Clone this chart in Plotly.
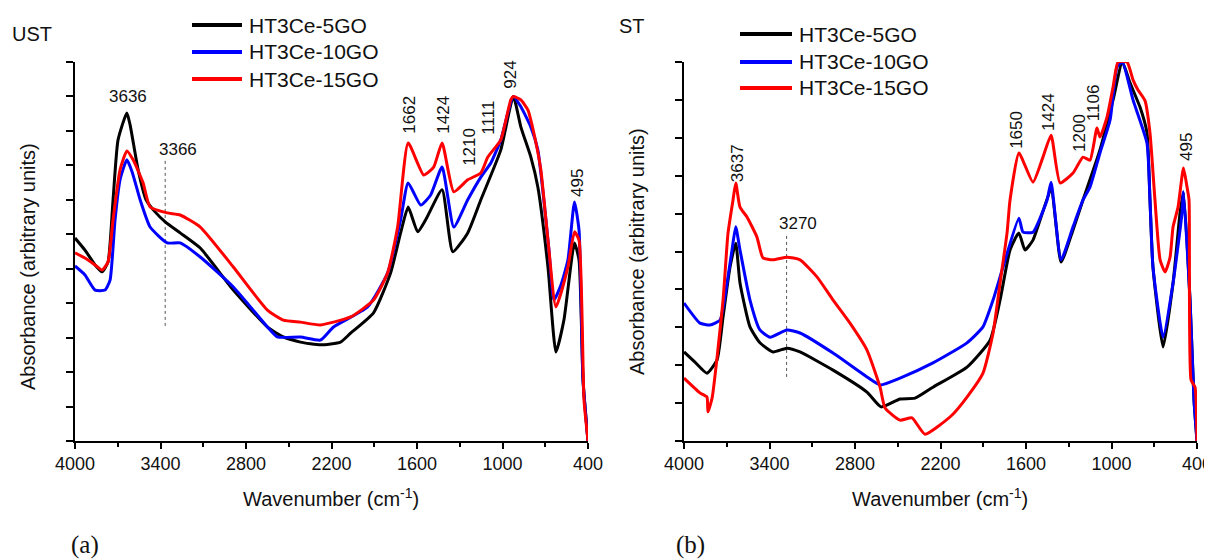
import plotly.graph_objects as go

W, H = 1212, 560

series_names = ["HT3Ce-5GO", "HT3Ce-10GO", "HT3Ce-15GO"]
series_colors = ["#000000", "#0000FF", "#FF0000"]

# ---------------- (a) UST ----------------
ust_5go_wn = [4000, 3930, 3859, 3810, 3768, 3733, 3698, 3636, 3613, 3557, 3501, 3438, 3367, 3262, 3121,
              2889, 2650, 2538, 2418, 2277, 2137, 2066, 1905, 1785, 1715, 1662, 1595, 1539, 1424, 1349,
              1244, 1152, 1012, 924, 871, 801, 752, 681, 625, 569, 495, 463, 435, 400]
ust_5go_abs = [5.89, 5.54, 5.11, 4.91, 5.20, 7.00, 8.74, 9.52, 9.17, 7.87, 7.00, 6.65, 6.36, 6.04, 5.60,
               4.38, 3.31, 3.02, 2.87, 2.79, 2.87, 3.13, 3.72, 4.88, 6.04, 6.79, 6.07, 6.42, 7.29, 5.49,
               6.04, 7.00, 8.45, 10.0, 9.11, 8.24, 7.37, 5.05, 2.58, 3.51, 5.75, 5.25, 1.77, 0.0]

ust_10go_wn = [4000, 3930, 3859, 3789, 3754, 3719, 3684, 3636, 3599, 3543, 3473, 3353, 3262, 3121, 2889,
               2650, 2580, 2418, 2277, 2186, 1947, 1806, 1715, 1662, 1574, 1504, 1424, 1342, 1244, 1152,
               1082, 1012, 924, 871, 801, 752, 710, 674, 639, 590, 541, 495, 463, 435, 400]
ust_10go_abs = [5.08, 4.82, 4.38, 4.38, 4.67, 6.42, 7.58, 8.16, 7.81, 7.00, 6.21, 5.75, 5.75, 5.34, 4.47,
                3.31, 3.02, 3.02, 2.93, 3.31, 3.89, 4.88, 6.42, 7.49, 6.85, 7.14, 7.95, 6.21, 7.00, 7.66,
                8.07, 8.74, 10.0, 9.70, 9.11, 8.45, 7.00, 5.54, 4.09, 4.53, 5.25, 6.94, 6.12, 1.77, 0.0]

ust_15go_wn = [4000, 3930, 3859, 3810, 3768, 3733, 3684, 3636, 3592, 3522, 3473, 3353, 3262, 3121, 2889,
               2650, 2538, 2418, 2277, 2066, 1905, 1806, 1736, 1662, 1553, 1483, 1424, 1342, 1244, 1152,
               1103, 1012, 942, 924, 871, 822, 780, 731, 681, 625, 541, 495, 463, 428, 400]
ust_15go_abs = [5.46, 5.31, 5.11, 4.96, 5.20, 6.42, 7.87, 8.42, 8.16, 7.49, 6.79, 6.62, 6.56, 6.21, 5.05,
                3.80, 3.51, 3.45, 3.37, 3.60, 4.09, 4.88, 6.21, 8.65, 7.72, 7.95, 8.65, 7.23, 7.58, 7.78,
                8.24, 8.74, 9.90, 10.0, 9.90, 9.61, 8.94, 7.87, 5.83, 3.89, 5.05, 6.07, 5.83, 1.19, 0.0]

# ---------------- (b) ST ----------------
st_5go_wn = [4000, 3923, 3839, 3768, 3726, 3677, 3637, 3607, 3537, 3467, 3375, 3277, 3186, 2954, 2716,
             2617, 2484, 2379, 2253, 2014, 1852, 1782, 1712, 1650, 1607, 1551, 1424, 1354, 1270, 1200,
             1081, 989, 924, 870, 800, 751, 730, 709, 638, 568, 519, 495, 449, 421, 400]
st_5go_abs = [2.35, 2.08, 1.79, 2.14, 3.27, 4.59, 5.22, 4.17, 3.01, 2.59, 2.35, 2.45, 2.35, 1.87, 1.29,
              0.90, 1.11, 1.13, 1.42, 1.95, 2.66, 3.72, 5.04, 5.49, 5.04, 5.30, 6.60, 4.72, 5.57, 6.36,
              7.68, 9.00, 10.0, 9.45, 8.81, 8.13, 6.36, 4.59, 2.48, 4.17, 6.02, 6.57, 3.72, 1.08, 0.0]

st_10go_wn = [4000, 3888, 3818, 3747, 3698, 3663, 3637, 3607, 3537, 3467, 3396, 3277, 3186, 2954, 2716,
              2624, 2484, 2253, 2014, 1902, 1831, 1761, 1650, 1621, 1551, 1452, 1424, 1354, 1270, 1200,
              1151, 1081, 1010, 961, 924, 849, 751, 730, 709, 638, 568, 505, 495, 449, 421, 400]
st_10go_abs = [3.64, 3.11, 3.06, 3.19, 4.17, 5.04, 5.65, 5.04, 3.72, 2.93, 2.74, 2.93, 2.85, 2.32, 1.69,
               1.48, 1.66, 2.06, 2.59, 3.01, 3.72, 4.59, 5.88, 5.51, 5.51, 6.36, 6.83, 4.78, 5.65, 6.36,
               6.70, 7.60, 8.47, 9.87, 10.0, 9.00, 7.86, 6.36, 4.59, 2.74, 4.17, 6.02, 6.57, 3.72, 1.08, 0.0]

st_15go_wn = [4000, 3888, 3839, 3832, 3803, 3726, 3691, 3656, 3637, 3607, 3558, 3488, 3446, 3375, 3277,
              3186, 3067, 2954, 2835, 2716, 2624, 2589, 2484, 2400, 2309, 2126, 2014, 1902, 1831, 1782,
              1733, 1712, 1650, 1551, 1481, 1424, 1361, 1270, 1200, 1151, 1102, 1081, 1031, 989, 954,
              891, 849, 814, 765, 730, 695, 659, 624, 589, 568, 533, 495, 470, 456, 442, 414, 400]
st_15go_abs = [1.66, 1.27, 1.16, 0.77, 1.13, 3.72, 5.49, 6.36, 6.81, 6.17, 5.91, 5.38, 4.83, 4.78, 4.85,
               4.78, 4.33, 3.72, 3.11, 2.40, 1.42, 0.87, 0.55, 0.61, 0.18, 0.66, 1.16, 1.79, 2.85, 4.17,
               5.49, 6.36, 7.60, 6.83, 7.49, 8.07, 6.81, 7.07, 7.49, 7.41, 8.26, 8.02, 8.55, 9.34, 10.0,
               10.0, 9.53, 9.26, 8.98, 8.13, 6.36, 4.78, 4.46, 4.85, 5.65, 6.17, 7.20, 6.70, 6.36, 1.61, 1.42, 0.0]

# Axis ticks
x_tickvals = [4000, 3400, 2800, 2200, 1600, 1000, 400]
x_ticktext = ["4000", "3400", "2800", "2200", "1600", "1000", "400"]
x_minor_tickvals = [3700, 3100, 2500, 1900, 1300, 700]

# Peak labels
ust_peak_text = ["3636", "3366", "1662", "1424", "1210", "1111", "924", "495"]
ust_peak_wn = [3627, 3276, 1659, 1420, 1237, 1096, 950, 470]
ust_peak_y = [10.0, 8.45, 9.46, 9.46, 8.53, 9.38, 10.62, 7.49]
ust_peak_angle = [0, 0, -90, -90, -90, -90, -90, -90]
ust_guide_wn = [3367, 3367]
ust_guide_y = [3.34, 8.21]

st_peak_text = ["3637", "3270", "1650", "1424", "1200", "1106", "924", "495"]
st_peak_wn = [3628, 3200, 1663, 1445, 1221, 1130, 926, 470]
st_peak_y = [7.33, 5.75, 8.21, 8.68, 8.13, 8.94, 10.5, 7.76]
st_peak_angle = [-90, 0, -90, -90, -90, -90, -90, -90]
st_guide_wn = [3280, 3280]
st_guide_y = [1.69, 5.44]

FONT = "Liberation Sans, Arial, sans-serif"
OFF = 8  # the page body has a default 8px margin


def px(x):
    return (x - OFF) / W


def py(y):
    return 1 - (y - OFF) / H


fig = go.Figure()

panels = [
    ("x", "y", [(ust_5go_wn, ust_5go_abs), (ust_10go_wn, ust_10go_abs), (ust_15go_wn, ust_15go_abs)],
     ust_guide_wn, ust_guide_y),
    ("x2", "y2", [(st_5go_wn, st_5go_abs), (st_10go_wn, st_10go_abs), (st_15go_wn, st_15go_abs)],
     st_guide_wn, st_guide_y),
]
for xa, ya, series, gw, gy in panels:
    fig.add_trace(go.Scatter(x=gw, y=gy, mode="lines", xaxis=xa, yaxis=ya, showlegend=False,
                             line=dict(color="#555555", width=1, dash="dot"), hoverinfo="skip"))
    for (wn, ab), name, col in zip(series, series_names, series_colors):
        fig.add_trace(go.Scatter(x=wn, y=ab, mode="lines", name=name, xaxis=xa, yaxis=ya,
                                 showlegend=False,
                                 line=dict(color=col, width=3, shape="spline", smoothing=0.5)))

common_x = dict(range=[4000, 400], tickvals=x_tickvals, ticktext=x_ticktext, ticks="outside",
                ticklen=6, tickwidth=1.5, tickcolor="black", showline=True, linecolor="black",
                linewidth=1.5, showgrid=False, zeroline=False, automargin=False,
                tickfont=dict(family=FONT, size=18, color="#111111"),
                minor=dict(tickvals=x_minor_tickvals, ticks="outside", ticklen=4, tickwidth=1.5,
                           tickcolor="black", showgrid=False))
common_y = dict(ticks="outside", ticklen=7, tickwidth=1.5, tickcolor="black", showline=True,
                linecolor="black", linewidth=1.5, showgrid=False, zeroline=False, automargin=False,
                showticklabels=False, dtick=1, tick0=0)

fig.update_layout(
    width=W, height=H, margin=dict(l=0, r=0, t=0, b=0, autoexpand=False),
    paper_bgcolor="white", plot_bgcolor="white", showlegend=False,
    xaxis=dict(domain=[px(75), px(588)], anchor="y", **common_x),
    yaxis=dict(domain=[py(441), py(62)], anchor="x", range=[0, 11], **common_y),
    xaxis2=dict(domain=[px(684), px(1197)], anchor="y2", **common_x),
    yaxis2=dict(domain=[py(441), py(62)], anchor="x2", range=[0, 10], **common_y),
)

annotations = []
for texts, wns, ys, angs, xr, yr in [
    (ust_peak_text, ust_peak_wn, ust_peak_y, ust_peak_angle, "x", "y"),
    (st_peak_text, st_peak_wn, st_peak_y, st_peak_angle, "x2", "y2"),
]:
    for t, w, yv, a in zip(texts, wns, ys, angs):
        annotations.append(dict(x=w, y=yv, xref=xr, yref=yr, text=t, textangle=a, showarrow=False,
                                xanchor="center", yanchor="middle",
                                font=dict(family=FONT, size=17, color="#111111")))

# Legends (drawn manually to match line-sample length)
shapes = []
for x0, x1, tx, rows in [(192, 242, 247, [25, 52, 79]), (740, 792, 797, [34, 62, 88])]:
    for name, col, ry in zip(series_names, series_colors, rows):
        shapes.append(dict(type="line", xref="paper", yref="paper", x0=px(x0), x1=px(x1),
                           y0=py(ry), y1=py(ry), line=dict(color=col, width=4)))
        annotations.append(dict(x=px(tx), y=py(ry), xref="paper", yref="paper", text=name,
                                showarrow=False, xanchor="left", yanchor="middle",
                                font=dict(family=FONT, size=21, color="#111111")))

# Panel titles, axis titles, captions
for txt, x, y in [("UST", 32, 34), ("ST", 632, 26)]:
    annotations.append(dict(x=px(x), y=py(y), xref="paper", yref="paper", text=txt, showarrow=False,
                            xanchor="center", yanchor="middle",
                            font=dict(family=FONT, size=20, color="#111111")))
for x in [331, 940]:
    annotations.append(dict(x=px(x), y=py(497), xref="paper", yref="paper",
                            text="Wavenumber (cm<sup>-1</sup>)", showarrow=False,
                            xanchor="center", yanchor="middle",
                            font=dict(family=FONT, size=20, color="#111111")))
for x, y in [(28, 267), (637, 252)]:
    annotations.append(dict(x=px(x), y=py(y), xref="paper", yref="paper",
                            text="Absorbance (arbitrary units)", textangle=-90, showarrow=False,
                            xanchor="center", yanchor="middle",
                            font=dict(family=FONT, size=20, color="#111111")))
for txt, x in [("(a)", 85), ("(b)", 690)]:
    annotations.append(dict(x=px(x), y=py(545), xref="paper", yref="paper", text=txt,
                            showarrow=False, xanchor="center", yanchor="middle",
                            font=dict(family="Liberation Serif, Times New Roman, serif", size=25,
                                      color="#111111")))

fig.update_layout(annotations=annotations, shapes=shapes)
fig.write_html("out.html")
